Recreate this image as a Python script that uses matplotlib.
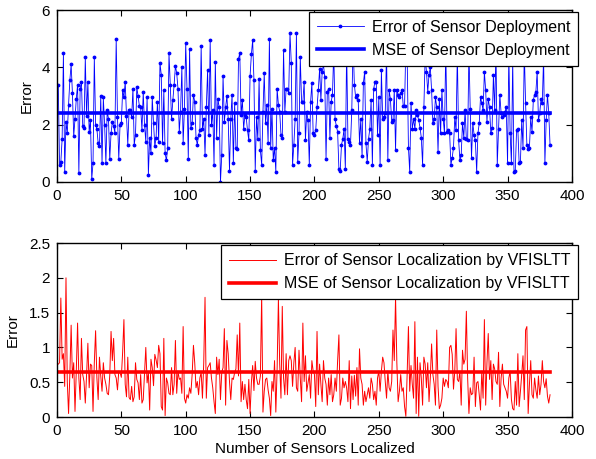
import numpy as np
import matplotlib
matplotlib.use("Agg")
import matplotlib.pyplot as plt

plt.rcParams['font.family'] = ['Liberation Sans', 'DejaVu Sans']
plt.rcParams['font.size'] = 11

# error of sensor deployment
deploy_err = [
    3.4, 0.6, 0.7, 1.5, 4.5, 0.35, 2.1, 1.7, 2.7, 3.55, 4.1, 3.1, 1.6, 2.2, 2.9, 3.4, 0.3, 3.25, 3.5, 1.95,
    1.9, 4.35, 2.3, 3.5, 1.75, 2.15, 0.1, 0.65, 4.35, 2.0, 1.85, 1.35, 1.25, 3.0, 0.65, 2.95, 2.0, 0.65, 2.5, 2.2,
    0.8, 1.7, 2.1, 1.95, 1.7, 5.0, 2.25, 0.8, 2.0, 2.05, 3.2, 2.95, 3.5, 2.3, 1.3, 2.5, 2.5, 2.25, 3.25, 1.3,
    1.65, 3.3, 3.0, 2.65, 2.6, 1.8, 3.15, 2.0, 1.4, 2.95, 0.25, 1.55, 1.0, 2.95, 2.05, 1.25, 1.55, 2.8, 1.4, 4.15,
    3.75, 1.35, 3.2, 1.0, 0.75, 1.2, 4.5, 3.4, 2.2, 2.85, 3.4, 4.05, 3.8, 3.25, 1.75, 2.45, 4.0, 1.35, 2.55, 4.85,
    3.25, 0.8, 4.65, 1.9, 2.05, 3.05, 2.8, 1.55, 1.3, 1.65, 1.8, 4.75, 1.85, 2.2, 0.95, 2.6, 3.9, 1.65, 4.95, 2.0,
    2.5, 0.6, 4.2, 1.55, 2.9, 2.6, 0.0, 0.95, 3.7, 2.1, 2.6, 3.0, 2.2, 0.4, 2.2, 3.05, 0.65, 2.75, 1.2, 1.15,
    4.3, 4.5, 2.35, 2.85, 1.85, 2.35, 2.25, 1.8, 1.45, 3.7, 4.45, 4.95, 3.55, 0.4, 2.25, 1.5, 3.6, 1.1, 0.6,
    2.45, 3.8, 2.05, 2.7, 1.35, 5.0, 1.2, 2.55, 0.75, 1.2, 0.35, 3.25, 2.7, 2.45, 1.65, 1.55, 4.6, 2.45, 3.25, 3.25,
    3.1, 5.2, 4.15, 0.6, 1.3, 2.2, 5.2, 0.7, 1.7, 4.35, 2.8, 2.8, 3.5, 1.45, 2.45, 2.15, 0.6, 2.8, 3.45, 1.7,
    1.65, 1.8, 2.6, 3.2, 3.95, 2.85, 3.85, 4.1, 3.65, 0.8, 3.15, 3.25, 1.55, 2.8, 3.05, 4.6, 2.2, 1.95, 1.75, 0.45,
    0.4, 1.3, 1.5, 1.85, 0.45, 4.7, 1.5, 1.4, 1.3, 2.5, 4.9, 3.4, 2.95, 3.05, 2.85, 1.35, 2.2, 0.9, 3.45,
    3.85, 1.35, 0.7, 1.5, 1.85, 2.85, 0.6, 3.25, 3.5, 3.5, 1.65, 2.95, 0.6, 3.9, 2.2, 2.25, 2.4, 4.6, 0.75, 3.2,
    2.9, 2.1, 2.15, 3.2, 1.1, 3.2, 3.05, 2.95, 3.1, 3.2, 2.65, 2.65, 4.8, 4.5, 1.2, 0.35, 2.75, 1.85, 2.2, 1.85,
    2.5, 2.35, 2.15, 1.9, 1.55, 0.6, 2.6, 4.4, 3.85, 3.15, 3.75, 4.0, 3.2, 2.05, 2.2, 2.95, 2.6, 1.05, 2.9, 1.7,
    3.2, 2.2, 1.7, 4.7, 1.75, 1.8, 1.7, 0.6, 0.85, 1.2, 2.25, 1.8, 4.5, 1.45, 0.75,
    0.95, 2.05, 1.55, 2.5, 1.5, 1.45, 4.6, 2.55, 0.85, 2.05, 1.65, 1.45, 0.35, 1.7, 2.05, 2.95, 2.75, 2.5, 3.85, 3.2,
    2.1, 2.9, 2.6, 1.7, 1.9, 3.75, 2.5, 4.7, 0.6, 1.85, 3.05, 2.4, 2.25, 2.35, 2.45, 2.6, 0.65, 4.5, 1.7, 0.65,
    4.3, 0.35, 0.4, 1.8, 1.85, 0.65, 0.7, 2.15, 1.2, 4.6, 2.75, 1.3, 1.15, 1.2, 2.25, 1.75, 2.85, 3.05, 3.15, 3.85,
    2.15, 2.4, 2.9, 2.75, 4.4, 0.65, 2.15, 3.05, 2.4, 1.3,
]

# error of sensor localization by VFISLTT
local_err = [
    0.76, 0.78, 1.71, 0.83, 0.91, 0.44, 2.0, 0.51, 0.05, 0.61, 1.32, 0.56, 0.78, 0.08, 0.66, 1.35, 0.56, 0.25, 1.13, 0.61,
    0.51, 0.2, 0.61, 1.06, 0.42, 0.76, 0.74, 0.08, 0.78, 1.24, 0.56, 0.25, 0.86, 0.59, 0.37, 0.78, 0.56, 0.47, 0.34, 0.32,
    0.6, 1.23, 0.81, 1.13, 0.61, 0.56, 0.39, 0.66, 0.64, 0.57, 0.93, 1.4, 0.47, 0.29, 0.86, 0.28, 0.25, 0.44, 0.22, 0.29,
    0.78, 0.54, 0.49, 0.25, 0.61, 0.2, 0.25, 0.61, 1.0, 0.49, 0.64, 0.1, 0.83, 0.71, 0.45, 0.9, 0.82, 0.71,
    1.03, 0.91, 0.15, 0.1, 1.13, 0.02, 0.56, 0.49, 0.34, 0.32, 0.71, 0.32, 0.47, 1.1, 0.34, 0.66, 0.54, 0.56, 0.34, 1.3,
    0.27, 0.2, 0.32, 0.27, 0.42, 0.34, 0.61, 1.03, 0.78, 0.42, 0.51, 0.32, 0.56, 0.64, 0.27, 0.78, 1.72, 0.27, 0.71, 0.74,
    0.78, 0.56, 0.42, 0.22, 0.05, 0.86, 0.61, 0.83, 0.25, 0.64, 0.71, 1.27, 0.17, 1.1, 0.91, 0.51, 0.25, 0.56, 0.54, 0.64,
    0.69, 1.18, 0.59, 1.35, 0.22, 0.51, 0.25, 0.47, 0.25, 0.12, 0.54, 0.05, 0.49, 0.74, 0.38, 0.8, 0.56, 0.47,
    0.47, 0.59, 1.75, 0.07, 0.37, 0.54, 0.56, 0.39, 0.27, 0.02, 0.51, 0.37, 0.81, 0.07, 0.69, 1.7, 0.76, 0.27, 1.59, 0.56,
    0.32, 0.91, 0.32, 0.81, 0.88, 0.81, 0.44, 0.78, 1.0, 0.42, 0.37, 0.96, 0.56, 0.22, 1.35, 0.51, 0.88, 0.37, 0.49, 0.61,
    0.27, 0.81, 0.66, 0.61, 0.15, 1.23, 0.32, 0.76, 0.47, 0.22, 0.81, 0.56, 0.47, 0.17, 0.56, 0.32, 0.61, 0.22, 0.32, 0.56,
    0.37, 0.81, 1.18, 0.17, 0.27, 0.56, 0.42, 0.51, 0.42, 0.22, 0.81, 0.12, 0.59, 0.25, 0.6, 0.3, 0.71, 0.17,
    0.98, 0.56, 0.47, 0.17, 0.37, 0.22, 0.32, 0.42, 0.27, 0.56, 0.47, 0.25, 0.37, 0.17, 0.56, 0.66, 0.37, 0.66, 0.86, 0.78,
    0.51, 0.27, 0.66, 0.42, 0.37, 0.51, 1.25, 0.81, 1.72, 0.78, 0.22, 0.37, 0.61, 0.37, 0.42, 0.15, 0.01, 0.61, 1.3, 0.37,
    0.74, 0.47, 0.27, 1.37, 0.05, 0.86, 0.01, 0.78, 0.56, 0.17, 0.86, 0.76, 0.42, 0.78, 0.22, 0.56, 1.05, 0.61, 0.47, 0.17,
    1.25, 0.44, 0.12, 0.17, 0.27, 0.56, 0.44, 0.54, 0.51, 0.42, 1.0, 1.03, 0.9, 0.4, 0.66, 1.27, 0.54,
    0.51, 0.66, 0.17, 0.96, 0.76, 0.83, 1.52, 0.56, 0.05, 0.42, 0.32, 0.34, 0.86, 0.15, 0.49, 0.51, 0.32, 0.1, 0.66, 0.27,
    1.4, 0.17, 0.78, 1.2, 0.54, 0.81, 0.25, 0.76, 0.69, 0.51, 0.47, 0.93, 0.15, 0.56, 0.76, 0.47, 0.42, 0.37, 0.27, 0.56,
    0.66, 0.25, 0.12, 0.1, 0.51, 0.17, 0.91, 0.15, 0.37, 0.61, 0.88, 0.25, 1.25, 1.3, 0.05, 0.47, 0.81, 0.32, 0.27, 0.56,
    0.39, 0.27, 0.59, 0.32, 0.47, 0.81, 0.51, 0.42, 0.55, 0.3, 0.2, 0.32,
]

deploy_mse = 2.4
local_mse = 0.64

x_ticks = [0, 50, 100, 150, 200, 250, 300, 350, 400]

fig = plt.figure(figsize=(5.96, 4.59), dpi=100)
ax1 = fig.add_axes([0.0956, 0.6035, 0.864, 0.3747])
ax2 = fig.add_axes([0.0956, 0.0915, 0.864, 0.379])

x1 = np.arange(1, len(deploy_err) + 1)
ax1.plot(x1, deploy_err, color=(0, 0, 1), lw=0.6, marker='.', ms=3.5,
         label='Error of Sensor Deployment')
ax1.plot([x1[0], x1[-1]], [deploy_mse, deploy_mse], color=(0, 0, 1), lw=2.6,
         label='MSE of Sensor Deployment')
ax1.set_ylim(0, 6)
ax1.set_yticks([0, 2, 4, 6])
ax1.set_ylabel('Error')

x2 = np.arange(1, len(local_err) + 1)
ax2.plot(x2, local_err, color=(1, 0, 0), lw=0.7,
         label='Error of Sensor Localization by VFISLTT')
ax2.plot([x2[0], x2[-1]], [local_mse, local_mse], color=(1, 0, 0), lw=2.6,
         label='MSE of Sensor Localization by VFISLTT')
ax2.set_ylim(0, 2.5)
ax2.set_yticks([0, 0.5, 1, 1.5, 2, 2.5])
ax2.set_yticklabels(['0', '0.5', '1', '1.5', '2', '2.5'])
ax2.set_ylabel('Error')
ax2.set_xlabel('Number of Sensors Localized', labelpad=3)

for ax in (ax1, ax2):
    ax.set_xlim(0, 400)
    ax.set_xticks(x_ticks)
    ax.tick_params(direction='in', top=True, right=True, length=4, width=0.8, pad=5)
    for s in ax.spines.values():
        s.set_linewidth(1.0)
    leg = ax.legend(loc='upper right', bbox_to_anchor=(1.012, 0.988),
                    handlelength=2.9, fancybox=False, framealpha=1,
                    edgecolor='black', borderaxespad=0, fontsize=11.5,
                    borderpad=0.5, labelspacing=0.5, handletextpad=0.5)
    leg.get_frame().set_linewidth(0.9)

ax1.yaxis.set_label_coords(-0.045, 0.5)
ax2.yaxis.set_label_coords(-0.072, 0.5)

fig.savefig('out.png', dpi=100)
